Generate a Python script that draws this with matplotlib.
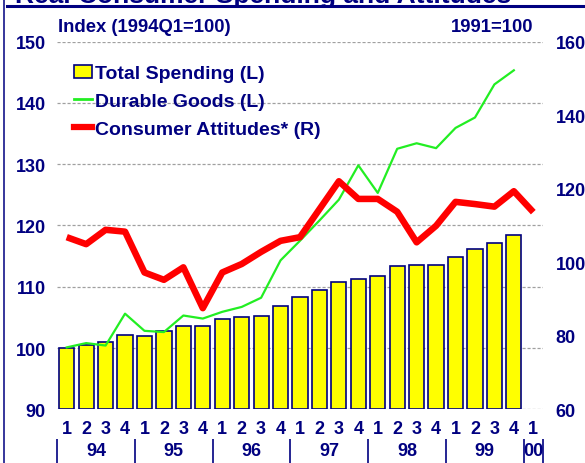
import matplotlib
matplotlib.use("Agg")
import matplotlib.pyplot as plt
from matplotlib.patches import Patch
from matplotlib.lines import Line2D

plt.rcParams["font.family"] = ["Liberation Sans", "DejaVu Sans"]
plt.rcParams["font.weight"] = "bold"

NAVY = "#000080"

# quarterly data, 1994Q1 .. 2000Q1
quarters = ["1", "2", "3", "4"] * 6 + ["1"]
years = ["94", "95", "96", "97", "98", "99", "00"]
total_spending = [100.0, 100.5, 100.9, 102.1, 101.9, 102.8, 103.6, 103.6,
                  104.8, 105.1, 105.3, 106.9, 108.4, 109.4, 110.7, 111.3,
                  111.8, 113.3, 113.5, 113.5, 114.8, 116.1, 117.2, 118.4]
durable_goods = [100.1, 100.8, 100.4, 105.6, 102.8, 102.6, 105.3, 104.8,
                 105.9, 106.7, 108.2, 114.3, 117.5, 120.8, 124.2, 129.8,
                 125.3, 132.5, 133.4, 132.6, 135.9, 137.6, 143.0, 145.3]
attitudes = [106.8, 104.9, 108.8, 108.3, 97.2, 95.2, 98.6, 87.5,
             97.2, 99.5, 102.8, 105.8, 106.8, 114.4, 122.0, 117.2,
             117.2, 113.7, 105.4, 109.9, 116.4, 115.8, 115.1, 119.3, 113.6]

W, H = 585, 464
fig = plt.figure(figsize=(W / 100, H / 100), dpi=100)
ax = fig.add_axes([57 / W, (H - 410.3) / H, 486 / W, 367.8 / H])
ax2 = ax.twinx()

x_bar = list(range(len(total_spending)))
x_att = list(range(len(attitudes)))

ax.bar(x_bar, [v - 90 for v in total_spending], bottom=90, width=0.78,
       color="#ffff00", edgecolor=NAVY, linewidth=1.2, zorder=2)
ax.plot(x_bar, durable_goods, color="#22ee22", linewidth=1.6, zorder=3)
ax2.plot(x_att, attitudes, color="#ff0000", linewidth=4.7,
         solid_joinstyle="round", solid_capstyle="butt")

ax.set_xlim(-0.5, 24.5)
ax.set_ylim(90, 150)
ax2.set_ylim(60, 160)
ax.set_yticks(range(90, 151, 10))
ax2.set_yticks(range(60, 161, 20))
ax.set_axisbelow(True)
ax.yaxis.grid(True, linestyle=(0, (2.5, 1.5)), color="#a0a0a0", linewidth=0.9)

ax.set_xticks(x_att)
ax.set_xticklabels(quarters)
for a in (ax, ax2):
    for s in a.spines.values():
        s.set_visible(False)
    a.tick_params(length=0, labelsize=13, labelcolor=NAVY)
ax.tick_params(axis="y", pad=8)
ax.tick_params(axis="x", pad=8)
ax2.tick_params(axis="y", pad=9)
for lab in ax.get_xticklabels() + ax.get_yticklabels() + ax2.get_yticklabels():
    lab.set_fontweight("bold")

# year labels and separators under the quarter labels
trans = ax.get_xaxis_transform()
year_centers = [1.5, 5.5, 9.5, 13.5, 17.5, 21.5, 24]
for xc, yr in zip(year_centers, years):
    ax.text(xc, -0.113, yr, transform=trans, ha="center", va="center",
            fontsize=13, fontweight="bold", color=NAVY)
seps = [-0.5, 3.5, 7.5, 11.5, 15.5, 19.5, 23.5, 24.5]
ax.vlines(seps, -0.081, -0.15, transform=trans, colors=NAVY,
          linewidth=1.2, clip_on=False)

handles = [Patch(facecolor="#ffff00", edgecolor=NAVY, linewidth=1.2),
           Line2D([], [], color="#22ee22", linewidth=2),
           Line2D([], [], color="#ff0000", linewidth=4.5)]
labels = ["Total Spending (L)", "Durable Goods (L)", "Consumer Attitudes* (R)"]
leg = ax2.legend(handles, labels, loc="upper left",
                 bbox_to_anchor=(0.035, 0.937), frameon=False, borderpad=0,
                 borderaxespad=0, handlelength=0.9, handleheight=0.65,
                 handletextpad=0.2, labelspacing=0.55,
                 prop={"size": 14, "weight": "bold"})
for t in leg.get_texts():
    t.set_color(NAVY)

fig.text(58 / W, 1 - 27 / H, "Index (1994Q1=100)", ha="left", va="center",
         fontsize=13.3, fontweight="bold", color=NAVY)
fig.text(533 / W, 1 - 27 / H, "1991=100", ha="right", va="center",
         fontsize=13.3, fontweight="bold", color=NAVY)

# title, partly cut off at the top edge, with rule and left frame line
fig.text(15 / W, 1 - 2.5 / H, "Real Consumer Spending and Attitudes",
         ha="left", va="baseline", fontsize=19, fontweight="bold", color=NAVY)
fig.add_artist(Line2D([7 / W, 1], [1 - 7 / H, 1 - 7 / H], color=NAVY,
                      linewidth=2.2))
fig.add_artist(Line2D([3.5 / W, 3.5 / W], [0, 1], color=NAVY, linewidth=1.1))

fig.savefig("out.png", dpi=100)
